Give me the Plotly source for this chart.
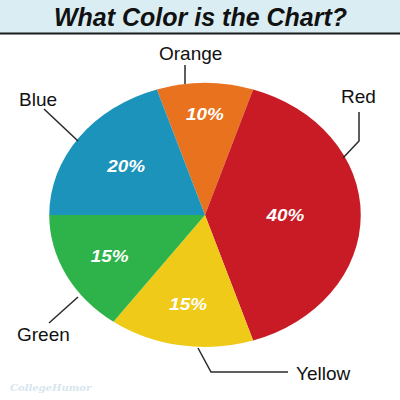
import plotly.graph_objects as go

# ---- data ----
labels = ["Orange", "Red", "Yellow", "Green", "Blue"]
values = [10, 40, 15, 15, 20]
colors = ["#e8721e", "#c81b25", "#efca19", "#2db34a", "#1b93ba"]
title_text = "What Color is the Chart?"

W, H = 400, 400


def px(x):
    return x / W


def py(y):
    return 1 - y / H


# pie circle: centre (205,215), radius 132 (stretched horizontally afterwards)
cx, cy, r = 205, 215, 132

fig = go.Figure()
fig.add_trace(go.Pie(
    labels=labels,
    values=values,
    sort=False,
    direction="clockwise",
    rotation=-18,
    marker=dict(colors=colors, line=dict(width=0)),
    textinfo="percent",
    texttemplate="%{value}%",
    textposition="inside",
    insidetextorientation="horizontal",
    insidetextfont=dict(family="Liberation Sans, Arial, sans-serif", size=16,
                        color="white", weight="bold", style="italic"),
    domain=dict(x=[px(cx - r), px(cx + r)], y=[py(cy + r), py(cy - r)]),
    hoverinfo="none",
    showlegend=False,
))

shapes = [
    dict(type="rect", xref="paper", yref="paper", x0=0, x1=1, y0=py(33), y1=1,
         fillcolor="#d9edf3", line=dict(width=0), layer="below"),
    dict(type="line", xref="paper", yref="paper", x0=0, x1=1, y0=py(33.5), y1=py(33.5),
         line=dict(color="#1a1a1a", width=2)),
]

leaders = [
    [(185, 65), (185, 84)],
    [(359, 112), (359, 141), (343, 158)],
    [(44, 109), (78, 141)],
    [(49, 323), (78, 297)],
    [(198, 348), (211, 372), (288, 372)],
]
for pts in leaders:
    path = "M " + " L ".join(f"{px(x)},{py(y)}" for x, y in pts)
    shapes.append(dict(type="path", xref="paper", yref="paper", path=path,
                       line=dict(color="#2a2a2a", width=1.5)))

label_pos = {
    "Orange": (190, 53),
    "Red": (358, 97),
    "Blue": (38, 99),
    "Green": (43, 334),
    "Yellow": (323, 373),
}
annotations = []
for name in labels:
    x, y = label_pos[name]
    annotations.append(dict(text=name, x=px(x), y=py(y), xref="paper", yref="paper",
                            showarrow=False, xanchor="center", yanchor="middle",
                            font=dict(family="Liberation Sans, Arial, sans-serif",
                                      size=19, color="#111111")))

annotations.append(dict(text=title_text, x=0.5, y=py(17), xref="paper", yref="paper",
                        showarrow=False, xanchor="center", yanchor="middle",
                        font=dict(family="Liberation Sans, Arial, sans-serif", size=25,
                                  color="#111111", weight="bold", style="italic")))
annotations.append(dict(text="CollegeHumor", x=px(8), y=py(387), xref="paper", yref="paper",
                        showarrow=False, xanchor="left", yanchor="middle",
                        font=dict(family="DejaVu Serif, serif", size=10,
                                  color="#d6e6ee", style="italic", weight="bold")))

fig.update_layout(
    width=W, height=H,
    margin=dict(l=0, r=0, t=0, b=0),
    paper_bgcolor="white",
    plot_bgcolor="white",
    shapes=shapes,
    annotations=annotations,
    showlegend=False,
)

post = """
document.body.style.margin = '0';
document.body.style.padding = '0';
var gd = document.getElementById('{plot_id}');
var sx = 1.18;
gd.querySelectorAll('.pielayer g.trace').forEach(function(t){
  var cx = 205;
  var p = t.querySelector('path.surface');
  if (p) {
    var m = (p.getAttribute('d') || '').match(/M\\s*([-\\d.]+)[ ,]+([-\\d.]+)/);
    if (m) { cx = parseFloat(m[1]); }
  }
  t.setAttribute('transform', 'matrix(' + sx + ',0,0,1,' + (cx * (1 - sx)) + ',0)');
});
"""

fig.write_html("out.html", config={"displayModeBar": False, "staticPlot": True},
               post_script=post)
